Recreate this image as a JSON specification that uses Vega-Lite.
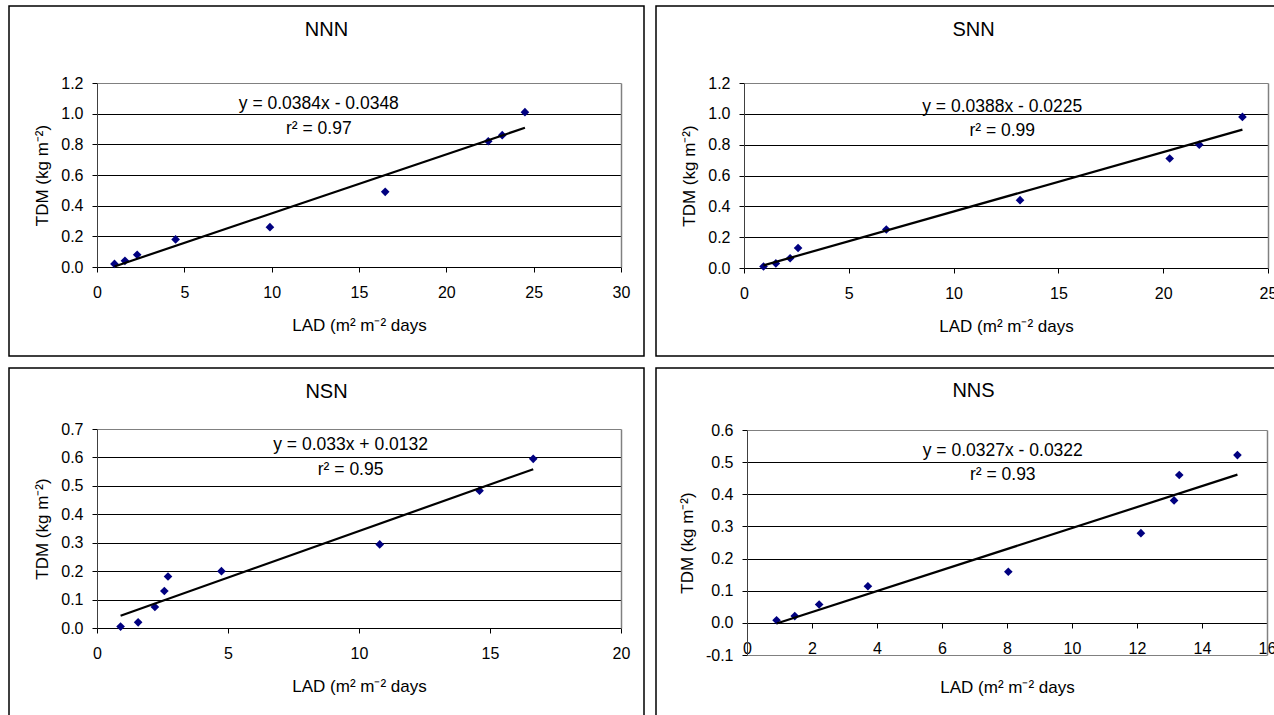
{
  "$schema": "https://vega.github.io/schema/vega-lite/v6.json",
  "padding": {"left": 8, "top": 5, "right": 0, "bottom": 0},
  "spacing": 12,
  "columns": 2,
  "bounds": "flush",
  "config": {
    "font": "Liberation Sans",
    "view": {"stroke": "black", "strokeWidth": 1.5, "fill": "white"},
    "axis": {
      "labelFont": "Liberation Sans", "labelFontSize": 16, "labelColor": "black",
      "titleFont": "Liberation Sans", "titleFontSize": 17, "titleFontWeight": "normal", "titleColor": "black",
      "tickColor": "black", "tickSize": 5, "domainColor": "black", "domainWidth": 1,
      "gridColor": "black", "gridOpacity": 1, "gridWidth": 1,
      "labelFlush": false, "labelOverlap": false, "labelBound": false
    },
    "axisX": {"labelPadding": 12, "titlePadding": 17},
    "axisY": {"labelPadding": 9, "titlePadding": 9, "domainColor": "#404040"},
    "title": {"font": "Liberation Sans", "fontSize": 20, "fontWeight": "normal", "color": "black"},
    "text": {"font": "Liberation Sans", "fontSize": 17.5, "color": "black"}
  },
  "datasets": {
    "NNN": [
      {"lad": 1.0, "tdm": 0.02}, {"lad": 1.6, "tdm": 0.04}, {"lad": 2.3, "tdm": 0.08},
      {"lad": 4.5, "tdm": 0.18}, {"lad": 9.9, "tdm": 0.26}, {"lad": 16.5, "tdm": 0.49},
      {"lad": 22.4, "tdm": 0.82}, {"lad": 23.2, "tdm": 0.86}, {"lad": 24.5, "tdm": 1.01}
    ],
    "SNN": [
      {"lad": 0.93, "tdm": 0.01}, {"lad": 1.52, "tdm": 0.03}, {"lad": 2.2, "tdm": 0.063},
      {"lad": 2.58, "tdm": 0.13}, {"lad": 6.79, "tdm": 0.25}, {"lad": 13.17, "tdm": 0.44},
      {"lad": 20.31, "tdm": 0.71}, {"lad": 21.72, "tdm": 0.8}, {"lad": 23.78, "tdm": 0.98}
    ],
    "NSN": [
      {"lad": 0.9, "tdm": 0.005}, {"lad": 1.57, "tdm": 0.02}, {"lad": 2.21, "tdm": 0.074},
      {"lad": 2.57, "tdm": 0.13}, {"lad": 2.71, "tdm": 0.181}, {"lad": 4.75, "tdm": 0.2},
      {"lad": 10.79, "tdm": 0.294}, {"lad": 14.6, "tdm": 0.483}, {"lad": 16.65, "tdm": 0.595}
    ],
    "NNS": [
      {"lad": 0.91, "tdm": 0.008}, {"lad": 1.47, "tdm": 0.021}, {"lad": 2.22, "tdm": 0.057},
      {"lad": 3.72, "tdm": 0.114}, {"lad": 8.04, "tdm": 0.159}, {"lad": 12.12, "tdm": 0.279},
      {"lad": 13.14, "tdm": 0.381}, {"lad": 13.3, "tdm": 0.46}, {"lad": 15.09, "tdm": 0.522}
    ]
  },
  "concat": [
    {
      "width": 635, "height": 350,
      "title": {"text": "NNN", "anchor": "middle", "frame": "group", "baseline": "alphabetic", "offset": 0, "dy": 50},
      "data": {"name": "NNN"},
      "layer": [
        {
          "mark": {"type": "point", "shape": "diamond", "filled": true, "color": "#000080", "size": 75, "opacity": 1},
          "encoding": {
            "x": {"field": "lad", "type": "quantitative",
              "scale": {"domain": [0, 30], "range": [88, 612], "nice": false, "zero": false},
              "axis": {"orient": "bottom", "offset": -89, "values": [0, 5, 10, 15, 20, 25, 30], "title": "LAD (m² m⁻² days", "grid": false}},
            "y": {"field": "tdm", "type": "quantitative",
              "scale": {"domain": [0, 1.2], "range": [261, 77], "nice": false, "zero": false},
              "axis": {"orient": "left", "offset": -88, "values": [0, 0.2, 0.4, 0.6, 0.8, 1.0, 1.2], "format": ".1f", "title": "TDM (kg m⁻²)", "grid": true,
                "gridColor": {"condition": {"test": "datum.value > 1.19", "value": "#808080"}, "value": "black"}}}
          }
        },
        {
          "transform": [{"regression": "tdm", "on": "lad"}],
          "mark": {"type": "line", "color": "black", "strokeWidth": 2.2},
          "encoding": {
            "x": {"field": "lad", "type": "quantitative", "axis": null},
            "y": {"field": "tdm", "type": "quantitative",
              "axis": {"orient": "right", "offset": -23, "labels": false, "ticks": false, "grid": false, "title": null, "domainColor": "#808080", "domainWidth": 1.5}}
          }
        },
        {
          "data": {"values": [{"label": "y = 0.0384x - 0.0348"}]},
          "mark": {"type": "text", "align": "center", "baseline": "alphabetic"},
          "encoding": {"x": {"datum": 12.7, "axis": null}, "y": {"datum": 1.029, "axis": null}, "text": {"field": "label"}}
        },
        {
          "data": {"values": [{"label": "r² = 0.97"}]},
          "mark": {"type": "text", "align": "center", "baseline": "alphabetic"},
          "encoding": {"x": {"datum": 12.7, "axis": null}, "y": {"datum": 0.87, "axis": null}, "text": {"field": "label"}}
        }
      ],
      "resolve": {"axis": {"x": "independent", "y": "independent"}}
    },
    {
      "width": 635, "height": 350,
      "title": {"text": "SNN", "anchor": "middle", "frame": "group", "baseline": "alphabetic", "offset": 0, "dy": 50},
      "data": {"name": "SNN"},
      "layer": [
        {
          "mark": {"type": "point", "shape": "diamond", "filled": true, "color": "#000080", "size": 75, "opacity": 1},
          "encoding": {
            "x": {"field": "lad", "type": "quantitative",
              "scale": {"domain": [0, 25], "range": [88, 612], "nice": false, "zero": false},
              "axis": {"orient": "bottom", "offset": -88, "values": [0, 5, 10, 15, 20, 25], "title": "LAD (m² m⁻² days", "grid": false}},
            "y": {"field": "tdm", "type": "quantitative",
              "scale": {"domain": [0, 1.2], "range": [262, 77], "nice": false, "zero": false},
              "axis": {"orient": "left", "offset": -88, "values": [0, 0.2, 0.4, 0.6, 0.8, 1.0, 1.2], "format": ".1f", "title": "TDM (kg m⁻²)", "grid": true,
                "gridColor": {"condition": {"test": "datum.value > 1.19", "value": "#808080"}, "value": "black"}}}
          }
        },
        {
          "transform": [{"regression": "tdm", "on": "lad"}],
          "mark": {"type": "line", "color": "black", "strokeWidth": 2.2},
          "encoding": {
            "x": {"field": "lad", "type": "quantitative", "axis": null},
            "y": {"field": "tdm", "type": "quantitative",
              "axis": {"orient": "right", "offset": -23, "labels": false, "ticks": false, "grid": false, "title": null, "domainColor": "#808080", "domainWidth": 1.5}}
          }
        },
        {
          "data": {"values": [{"label": "y = 0.0388x - 0.0225"}]},
          "mark": {"type": "text", "align": "center", "baseline": "alphabetic"},
          "encoding": {"x": {"datum": 12.32, "axis": null}, "y": {"datum": 1.014, "axis": null}, "text": {"field": "label"}}
        },
        {
          "data": {"values": [{"label": "r² = 0.99"}]},
          "mark": {"type": "text", "align": "center", "baseline": "alphabetic"},
          "encoding": {"x": {"datum": 12.32, "axis": null}, "y": {"datum": 0.858, "axis": null}, "text": {"field": "label"}}
        }
      ],
      "resolve": {"axis": {"x": "independent", "y": "independent"}}
    },
    {
      "width": 635, "height": 350,
      "title": {"text": "NSN", "anchor": "middle", "frame": "group", "baseline": "alphabetic", "offset": 0, "dy": 50},
      "data": {"name": "NSN"},
      "layer": [
        {
          "mark": {"type": "point", "shape": "diamond", "filled": true, "color": "#000080", "size": 75, "opacity": 1},
          "encoding": {
            "x": {"field": "lad", "type": "quantitative",
              "scale": {"domain": [0, 20], "range": [88, 612], "nice": false, "zero": false},
              "axis": {"orient": "bottom", "offset": -90, "values": [0, 5, 10, 15, 20], "title": "LAD (m² m⁻² days", "grid": false}},
            "y": {"field": "tdm", "type": "quantitative",
              "scale": {"domain": [0, 0.7], "range": [260, 61], "nice": false, "zero": false},
              "axis": {"orient": "left", "offset": -88, "values": [0, 0.1, 0.2, 0.3, 0.4, 0.5, 0.6, 0.7], "format": ".1f", "title": "TDM (kg m⁻²)", "grid": true,
                "gridColor": {"condition": {"test": "datum.value > 0.69", "value": "#808080"}, "value": "black"}}}
          }
        },
        {
          "transform": [{"regression": "tdm", "on": "lad"}],
          "mark": {"type": "line", "color": "black", "strokeWidth": 2.2},
          "encoding": {
            "x": {"field": "lad", "type": "quantitative", "axis": null},
            "y": {"field": "tdm", "type": "quantitative",
              "axis": {"orient": "right", "offset": -23, "labels": false, "ticks": false, "grid": false, "title": null, "domainColor": "#808080", "domainWidth": 1.5}}
          }
        },
        {
          "data": {"values": [{"label": "y = 0.033x + 0.0132"}]},
          "mark": {"type": "text", "align": "center", "baseline": "alphabetic"},
          "encoding": {"x": {"datum": 9.68, "axis": null}, "y": {"datum": 0.626, "axis": null}, "text": {"field": "label"}}
        },
        {
          "data": {"values": [{"label": "r² = 0.95"}]},
          "mark": {"type": "text", "align": "center", "baseline": "alphabetic"},
          "encoding": {"x": {"datum": 9.68, "axis": null}, "y": {"datum": 0.538, "axis": null}, "text": {"field": "label"}}
        }
      ],
      "resolve": {"axis": {"x": "independent", "y": "independent"}}
    },
    {
      "width": 635, "height": 350,
      "title": {"text": "NNS", "anchor": "middle", "frame": "group", "baseline": "alphabetic", "offset": 0, "dy": 49},
      "data": {"name": "NNS"},
      "layer": [
        {
          "mark": {"type": "point", "shape": "diamond", "filled": true, "color": "#000080", "size": 75, "opacity": 1},
          "encoding": {
            "x": {"field": "lad", "type": "quantitative",
              "scale": {"domain": [0, 16], "range": [91, 611], "nice": false, "zero": false},
              "axis": {"orient": "bottom", "offset": -95, "values": [0, 2, 4, 6, 8, 10, 12, 14, 16], "title": "LAD (m² m⁻² days", "titlePadding": 23, "grid": false}},
            "y": {"field": "tdm", "type": "quantitative",
              "scale": {"domain": [-0.1, 0.6], "range": [287, 62], "nice": false, "zero": false},
              "axis": {"orient": "left", "offset": -91, "values": [-0.1, 0, 0.1, 0.2, 0.3, 0.4, 0.5, 0.6],
                "labelExpr": "datum.value < 0 ? '-' + format(-datum.value, '.1f') : format(datum.value, '.1f')",
                "title": "TDM (kg m⁻²)", "grid": true,
                "gridColor": {"condition": {"test": "datum.value > 0.59 || datum.value < -0.09", "value": "#808080"}, "value": "black"}}}
          }
        },
        {
          "transform": [{"regression": "tdm", "on": "lad"}],
          "mark": {"type": "line", "color": "black", "strokeWidth": 2.2},
          "encoding": {
            "x": {"field": "lad", "type": "quantitative", "axis": null},
            "y": {"field": "tdm", "type": "quantitative",
              "axis": {"orient": "right", "offset": -24, "labels": false, "ticks": false, "grid": false, "title": null, "domainColor": "#808080", "domainWidth": 1.5}}
          }
        },
        {
          "data": {"values": [{"label": "y = 0.0327x - 0.0322"}]},
          "mark": {"type": "text", "align": "center", "baseline": "alphabetic"},
          "encoding": {"x": {"datum": 7.87, "axis": null}, "y": {"datum": 0.52, "axis": null}, "text": {"field": "label"}}
        },
        {
          "data": {"values": [{"label": "r² = 0.93"}]},
          "mark": {"type": "text", "align": "center", "baseline": "alphabetic"},
          "encoding": {"x": {"datum": 7.87, "axis": null}, "y": {"datum": 0.444, "axis": null}, "text": {"field": "label"}}
        }
      ],
      "resolve": {"axis": {"x": "independent", "y": "independent"}}
    }
  ]
}
